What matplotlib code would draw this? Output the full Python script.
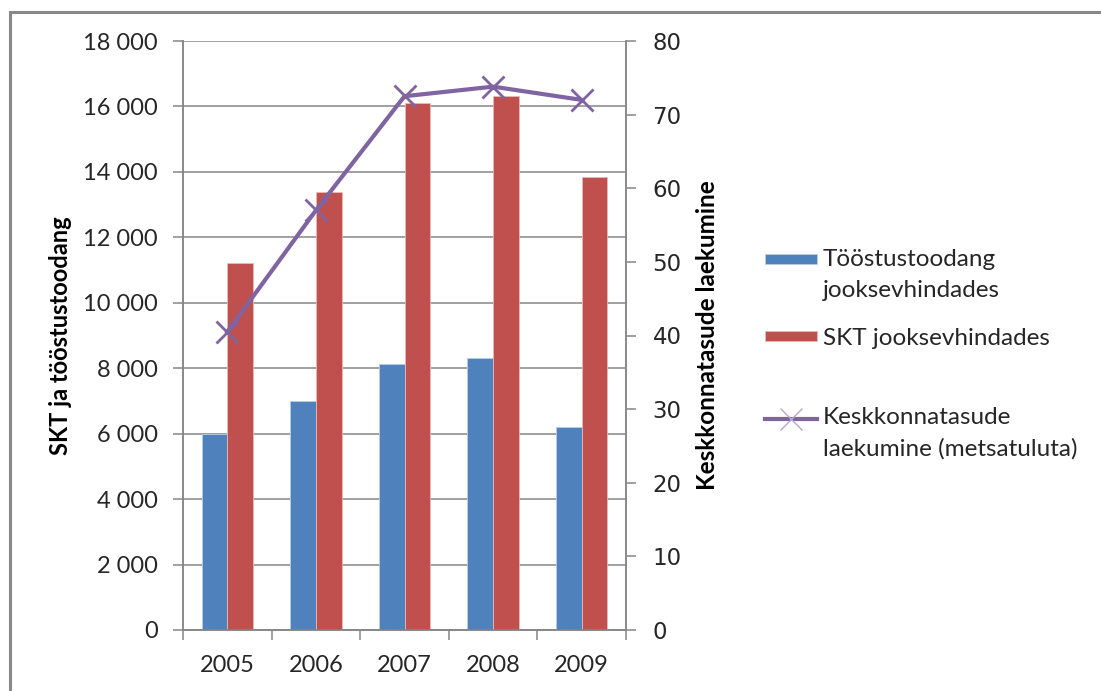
import numpy as np
import matplotlib
matplotlib.use('Agg')
from matplotlib import pyplot as plt
from matplotlib.patches import Patch, Rectangle
from matplotlib.lines import Line2D
from matplotlib.ticker import FuncFormatter, MultipleLocator, FixedLocator
from matplotlib.legend_handler import HandlerPatch, HandlerLine2D
from matplotlib.transforms import Affine2D

years = ['2005', '2006', '2007', '2008', '2009']
toostustoodang = [6000, 7000, 8140, 8320, 6210]
skt = [11220, 13390, 16100, 16320, 13840]
keskkonnatasud = [40.5, 57.0, 72.5, 73.8, 72.0]

label_toostus = 'Tööstustoodang\njooksevhindades'
label_skt = 'SKT jooksevhindades'
label_kesk = 'Keskkonnatasude\nlaekumine (metsatuluta)'

BLUE = '#4F81BD'
RED = '#C0504D'
PURPLE = '#8064A2'
GRID = '#868686'
TXT = '#262626'

plt.rcParams['font.family'] = ['Lato', 'DejaVu Sans']

fig = plt.figure(figsize=(11.01, 6.91), dpi=100)
ax = fig.add_axes([183 / 1101, 1 - 630 / 691, 443 / 1101, 589 / 691])
ax2 = ax.twinx()

# outer chart border
fig.patches.append(Rectangle((10 / 1101, -0.1), 1.2, 1.1 - 12 / 691,
                             transform=fig.transFigure, fill=False,
                             edgecolor='#888888', linewidth=2.2, zorder=0))

x = np.arange(len(years))
w = 0.29
ax.bar(x - w / 2, toostustoodang, w, color=BLUE, edgecolor='#B9CDE5', linewidth=0.6, zorder=3)
ax.bar(x + w / 2, skt, w, color=RED, edgecolor='#E6B9B8', linewidth=0.6, zorder=3)

ax2.plot(x, keskkonnatasud, color=PURPLE, linewidth=3, marker='x',
         markersize=16, markeredgewidth=2, zorder=4)

ax.set_xlim(-0.5, 4.5)
ax.set_ylim(0, 18000)
ax2.set_ylim(0, 80)
ax.yaxis.set_major_locator(MultipleLocator(2000))
ax2.yaxis.set_major_locator(MultipleLocator(10))
ax.yaxis.set_major_formatter(FuncFormatter(lambda v, p: f'{int(v):,}'.replace(',', ' ')))

ax.grid(axis='y', color=GRID, linewidth=1.1, zorder=0)
ax.set_axisbelow(True)

for a in (ax, ax2):
    for s in a.spines.values():
        s.set_color(GRID)
        s.set_linewidth(1.1)
    a.spines['top'].set_visible(False)

ax.set_xticks(x)
ax.set_xticklabels(years)
ax.xaxis.set_minor_locator(FixedLocator(np.arange(-0.5, 5, 1)))
ax.tick_params(axis='x', which='major', length=0, pad=18, labelsize=17, labelcolor=TXT)
ax.tick_params(axis='x', which='minor', length=7.5, color=GRID, width=1.1)
ax.tick_params(axis='y', length=7, color=GRID, width=1.1, pad=11, labelsize=17, labelcolor=TXT)
ax2.tick_params(axis='y', length=7, color=GRID, width=1.1, pad=12, labelsize=16.5, labelcolor=TXT)
for t in ax2.get_yticklabels():
    t.set_fontfamily('DejaVu Sans')

ax.set_ylabel('SKT ja tööstustoodang', fontsize=17, fontweight='bold', color='black')
ax.yaxis.set_label_coords(-0.25, 0.5)
ax2.set_ylabel('Keskkonnatasude laekumine', fontsize=17.5, fontweight='bold', color='black')
ax2.yaxis.set_label_coords(1.158, 0.5)


class RaisedPatch(HandlerPatch):
    def __init__(self, shift, **kw):
        super().__init__(**kw)
        self.shift = shift

    def create_artists(self, legend, orig_handle, xdescent, ydescent, width, height, fontsize, trans):
        return super().create_artists(legend, orig_handle, xdescent, ydescent, width, height,
                                      fontsize, Affine2D().translate(0, self.shift) + trans)


class RaisedLine(HandlerLine2D):
    def __init__(self, shift, **kw):
        super().__init__(**kw)
        self.shift = shift

    def create_artists(self, legend, orig_handle, xdescent, ydescent, width, height, fontsize, trans):
        return super().create_artists(legend, orig_handle, xdescent, ydescent, width, height,
                                      fontsize, Affine2D().translate(0, self.shift) + trans)


h_blue = Patch(facecolor=BLUE, edgecolor='#B9CDE5', linewidth=0.6)
h_red = Patch(facecolor=RED, edgecolor='#E6B9B8', linewidth=0.6)
h_line = Line2D([], [], color=PURPLE, linewidth=3, marker='x', markersize=16,
                markeredgewidth=1, markeredgecolor='#B4A7D6')

shift = 11.5
leg1 = fig.legend([h_blue, h_red], [label_toostus, label_skt],
                  loc='upper left', bbox_to_anchor=(765 / 1101, 1 - 249 / 691),
                  frameon=False, fontsize=17.5, borderpad=0, borderaxespad=0,
                  handlelength=2.15, handleheight=0.28, handletextpad=0.22,
                  labelspacing=1.1, labelcolor=TXT,
                  handler_map={h_blue: RaisedPatch(shift)})
for t in leg1.get_texts():
    t.set_linespacing(1.6)

leg2 = fig.legend([h_line], [label_kesk],
                  loc='upper left', bbox_to_anchor=(765 / 1101, 1 - 407 / 691),
                  frameon=False, fontsize=17.5, borderpad=0, borderaxespad=0,
                  handlelength=2.15, handleheight=0.28, handletextpad=0.22,
                  labelcolor=TXT,
                  handler_map={h_line: RaisedLine(shift)})
for t in leg2.get_texts():
    t.set_linespacing(1.6)

fig.savefig('out.png', dpi=100)
